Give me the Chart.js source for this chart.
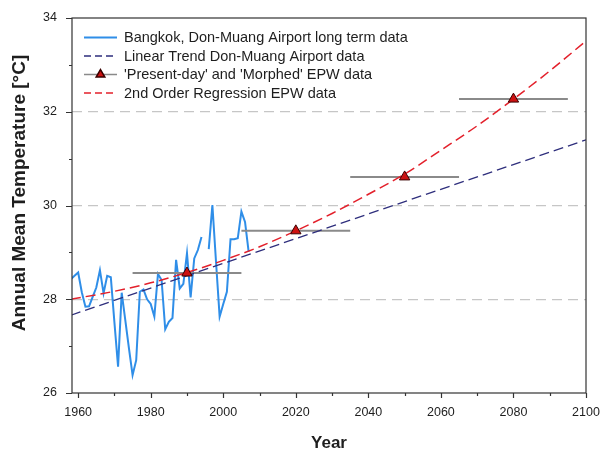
<!DOCTYPE html>
<html>
<head>
<meta charset="utf-8">
<script src="https://cdn.jsdelivr.net/npm/chart.js@4.4.1/dist/chart.umd.min.js"></script>
<style>
  html, body { margin: 0; padding: 0; background: #fff; }
  #wrap { width: 601px; height: 454px; }
</style>
</head>
<body>
<div id="wrap"><canvas id="tempChart" width="601" height="454"></canvas></div>
<script>
/* ─────────────────────────────────────────────
   Data
───────────────────────────────────────────── */
const obsYears = [
  1958, 1959, 1960, 1961, 1962, 1963, 1964, 1965, 1966, 1967,
  1968, 1969, 1970, 1971, 1972, 1973, 1974, 1975, 1976, 1977,
  1978, 1979, 1980, 1981, 1982, 1983, 1984, 1985, 1986, 1987,
  1988, 1989, 1990, 1991, 1992, 1993, 1994, 1995, 1996, 1997,
  1998, 1999, 2000, 2001, 2002, 2003, 2004, 2005, 2006, 2007
];
const obsTemps = [
  28.43, 28.50, 28.57, 28.15, 27.84, 27.85, 28.05, 28.25, 28.62, 28.13,
  28.50, 28.47, 27.50, 26.56, 28.14, 27.55, 26.95, 26.38, 26.70, 28.16,
  28.21, 28.00, 27.90, 27.63, 28.54, 28.41, 27.36, 27.52, 27.60, 28.84,
  28.23, 28.33, 28.98, 28.04, 28.87, 29.05, 29.33, null, 29.07, 30.01,
  28.80, 27.63, 27.90, 28.16, 29.28, 29.28, 29.30, 29.87, 29.65, 29.01
];

const trendYears = [1958, 2100];
const trendTemps = [27.66, 31.40];

const epwYears = [1990, 2020, 2050, 2080];
const epwTemps = [28.56, 29.46, 30.61, 32.27];
const epwSpan = 15; // each EPW file covers +/- 15 years

const regYears = [1958, 1970, 1980, 1990, 2000, 2010, 2020, 2030, 2040, 2050, 2060, 2070, 2080, 2090, 2100];
const regTemps = [28.00, 28.17, 28.35, 28.57, 28.83, 29.12, 29.46, 29.83, 30.24, 30.67, 31.18, 31.70, 32.27, 32.87, 33.51];

const xTicks = [1960, 1980, 2000, 2020, 2040, 2060, 2080, 2100];
const xMinor = [1970, 1990, 2010, 2030, 2050, 2070, 2090];
const yTicks = [26, 28, 30, 32, 34];
const yMinor = [27, 29, 31, 33];

/* ─────────────────────────────────────────────
   Styles
───────────────────────────────────────────── */
const fontFamily = '"Liberation Sans", Arial, sans-serif';
const colors = {
  obs: '#2f8ee8',
  trend: '#2e2e7c',
  reg: '#e3202b',
  epwFill: '#cc1111',
  epwEdge: '#3a0000',
  span: '#8a8a8a',
  grid: '#c6c6c6',
  frame: '#333333',
  text: '#1e1e1e',
};

const toPoints = (xs, ys) => xs.map((x, i) => ({ x, y: ys[i] }));

// horizontal bars for the EPW periods, broken apart with null points
const spanPoints = [];
epwYears.forEach((yr, i) => {
  spanPoints.push({ x: yr - epwSpan, y: epwTemps[i] });
  spanPoints.push({ x: yr + epwSpan, y: epwTemps[i] });
  spanPoints.push({ x: yr + epwSpan, y: null });
});

/* ─────────────────────────────────────────────
   Plugins: frame + ticks + y title, legend
───────────────────────────────────────────── */
const framePlugin = {
  id: 'frame',
  afterDraw(chart) {
    const { ctx, chartArea: a, scales: { x, y } } = chart;
    ctx.save();
    ctx.strokeStyle = colors.frame;
    ctx.lineWidth = 1.2;
    ctx.strokeRect(a.left, a.top, a.right - a.left, a.bottom - a.top);

    ctx.beginPath();
    xTicks.forEach(v => {
      const px = Math.round(x.getPixelForValue(v)) + 0.5;
      ctx.moveTo(px, a.bottom); ctx.lineTo(px, a.bottom + 5);
    });
    xMinor.forEach(v => {
      const px = Math.round(x.getPixelForValue(v)) + 0.5;
      ctx.moveTo(px, a.bottom); ctx.lineTo(px, a.bottom + 3);
    });
    yTicks.forEach(v => {
      const py = Math.round(y.getPixelForValue(v)) + 0.5;
      ctx.moveTo(a.left, py); ctx.lineTo(a.left - 6, py);
    });
    yMinor.forEach(v => {
      const py = Math.round(y.getPixelForValue(v)) + 0.5;
      ctx.moveTo(a.left, py); ctx.lineTo(a.left - 3, py);
    });
    ctx.stroke();

    // y axis title, sits a little above the middle of the axis
    ctx.translate(20, 193);
    ctx.rotate(-Math.PI / 2);
    ctx.font = 'bold 19px ' + fontFamily;
    ctx.fillStyle = colors.text;
    ctx.textAlign = 'center';
    ctx.textBaseline = 'middle';
    ctx.fillText('Annual Mean Temperature [°C]', 0, 0);
    ctx.restore();
  }
};

const legendItems = [
  { label: 'Bangkok, Don-Muang Airport long term data', color: colors.obs, dash: [], width: 2 },
  { label: 'Linear Trend Don-Muang Airport data', color: colors.trend, dash: [7, 4], width: 1.3 },
  { label: "'Present-day' and 'Morphed' EPW data", color: colors.span, dash: [], width: 1.5, marker: true },
  { label: '2nd Order Regression EPW data', color: colors.reg, dash: [7, 4], width: 1.5 },
];

const legendPlugin = {
  id: 'innerLegend',
  afterDraw(chart) {
    const { ctx, chartArea: a } = chart;
    const x0 = a.left + 12, x1 = a.left + 45, tx = a.left + 52;
    let yy = a.top + 19.5;
    ctx.save();
    ctx.font = '14.5px ' + fontFamily;
    ctx.textBaseline = 'middle';
    legendItems.forEach(item => {
      ctx.strokeStyle = item.color;
      ctx.lineWidth = item.width;
      ctx.setLineDash(item.dash);
      ctx.beginPath();
      ctx.moveTo(x0, yy); ctx.lineTo(x1, yy);
      ctx.stroke();
      ctx.setLineDash([]);
      if (item.marker) {
        ctx.fillStyle = colors.epwFill;
        ctx.strokeStyle = colors.epwEdge;
        Chart.helpers.drawPoint(ctx, { pointStyle: 'triangle', radius: 5, rotation: 0, borderWidth: 1 }, (x0 + x1) / 2, yy);
      }
      ctx.fillStyle = colors.text;
      ctx.fillText(item.label, tx, yy + 0.5);
      yy += 18.5;
    });
    ctx.restore();
  }
};

/* ─────────────────────────────────────────────
   Chart
───────────────────────────────────────────── */
const tickFont = { family: fontFamily, size: 12.5 };

new Chart(document.getElementById('tempChart'), {
  type: 'line',
  data: {
    datasets: [
      {
        label: "'Present-day' and 'Morphed' EPW data",
        data: toPoints(epwYears, epwTemps),
        showLine: false,
        pointStyle: 'triangle',
        pointRadius: 6,
        pointBackgroundColor: colors.epwFill,
        pointBorderColor: colors.epwEdge,
        pointBorderWidth: 1,
      },
      {
        label: '2nd Order Regression EPW data',
        data: toPoints(regYears, regTemps),
        borderColor: colors.reg,
        borderWidth: 1.5,
        borderDash: [10, 5],
        pointRadius: 0,
        cubicInterpolationMode: 'monotone',
      },
      {
        label: 'Linear Trend Don-Muang Airport data',
        data: toPoints(trendYears, trendTemps),
        borderColor: colors.trend,
        borderWidth: 1.3,
        borderDash: [10, 5],
        pointRadius: 0,
      },
      {
        label: 'EPW period',
        data: spanPoints,
        borderColor: colors.span,
        borderWidth: 2,
        pointRadius: 0,
        spanGaps: false,
      },
      {
        label: 'Bangkok, Don-Muang Airport long term data',
        data: toPoints(obsYears, obsTemps),
        borderColor: colors.obs,
        borderWidth: 2,
        pointRadius: 0,
        spanGaps: false,
        tension: 0,
      },
    ]
  },
  options: {
    responsive: false,
    animation: false,
    devicePixelRatio: 1,
    layout: { padding: { top: 18, right: 15, left: 0, bottom: 0 } },
    plugins: {
      legend: { display: false },
      tooltip: { enabled: false },
    },
    scales: {
      x: {
        type: 'linear',
        min: 1958.3,
        max: 2100,
        afterBuildTicks: s => { s.ticks = xTicks.map(v => ({ value: v })); },
        afterFit: s => { s.height = 61; s.paddingLeft = 0; s.paddingRight = 0; },
        grid: { display: false, drawTicks: false },
        border: { display: false },
        ticks: { color: colors.text, font: tickFont, padding: 12, maxRotation: 0, callback: v => String(v) },
        title: {
          display: true, text: 'Year', color: colors.text,
          font: { family: fontFamily, size: 17, weight: 'bold' },
          padding: { top: 0, bottom: 0 }
        },
      },
      y: {
        type: 'linear',
        min: 26,
        max: 34,
        afterBuildTicks: s => { s.ticks = yTicks.map(v => ({ value: v })); },
        afterFit: s => { s.width = 72; s.paddingTop = 0; s.paddingBottom = 0; },
        grid: {
          drawTicks: false,
          lineWidth: 1.3,
          color: c => (c.tick && (c.tick.value === 26 || c.tick.value === 34)) ? 'rgba(0,0,0,0)' : colors.grid,
        },
        border: { display: false, dash: [10, 6] },
        ticks: { color: colors.text, font: tickFont, padding: 15 },
      }
    }
  },
  plugins: [framePlugin, legendPlugin]
});
</script>
</body>
</html>
